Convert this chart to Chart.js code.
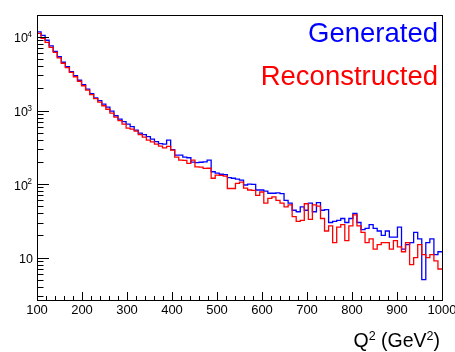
<!DOCTYPE html>
<html>
<head>
<meta charset="utf-8">
<script src="https://cdn.jsdelivr.net/npm/chart.js@4.4.1/dist/chart.umd.min.js"></script>
<style>
  html,body{margin:0;padding:0;background:#fff;}
  #wrap{width:455px;height:352px;}
</style>
</head>
<body>
<div id="wrap"><canvas id="c" width="455" height="352"></canvas></div>
<script>
// Q^2 spectrum, 100 bins of 9 GeV^2 from 100 to 1000
const X_MIN = 100, X_MAX = 1000, BIN_W = 9;
const Y_MIN = 2.65, Y_MAX = 19900;

const generated = [
  11700, 10540, 9020, 7590, 6390, 5380, 4530, 3940, 3370, 2970,
  2580, 2240, 1950, 1690, 1490, 1360, 1220, 1110, 978, 849,
  762, 705, 652, 603, 540, 492, 469, 441, 408, 377,
  354, 348, 395, 293, 247, 248, 232, 228, 199, 195,
  198, 200, 211, 147, 141, 136, 134, 122, 120, 117,
  113, 97, 100, 99, 83, 83, 80, 75, 75, 76,
  74, 60, 55, 44, 42, 49, 44, 55, 42, 56,
  44, 45, 30, 31, 32, 34, 30, 34, 40, 30,
  24, 25, 28, 25, 23, 20, 23, 19, 19, 26,
  13, 15, 16, 22, 18, 5, 16, 18, 11, 12
];
const reconstructed = [
  11220, 9600, 8470, 7240, 6190, 5210, 4390, 3820, 3310, 2880,
  2500, 2170, 1890, 1640, 1450, 1300, 1160, 1040, 919, 811,
  727, 652, 575, 557, 524, 469, 434, 395, 374, 348,
  327, 310, 325, 289, 232, 211, 210, 191, 211, 171,
  170, 163, 164, 120, 132, 131, 128, 87, 87, 102,
  106, 88, 83, 82, 70, 78, 55, 64, 67, 60,
  55, 49, 52, 36, 31, 32, 54, 33, 52, 50,
  34, 23, 27, 16, 26, 28, 17, 27, 38, 27,
  22, 16, 18, 13, 15, 16, 16, 13, 17, 14,
  12, 16, 8, 10, 15, 11, 10, 11, 9, 7
];
const xTicks = [100, 200, 300, 400, 500, 600, 700, 800, 900, 1000];
const yExponents = [1, 2, 3, 4];

const FONT = '"Liberation Sans", Arial, Helvetica, sans-serif';

// bin contents -> step points at the left edge of each bin, closed at X_MAX
function steps(vals){
  const pts = vals.map((v, i) => ({ x: X_MIN + i * BIN_W, y: v }));
  pts.push({ x: X_MAX, y: vals[vals.length - 1] });
  return pts;
}

const rootFrame = {
  id: 'rootFrame',
  afterDraw(chart){
    const { ctx, chartArea: a, scales: { x, y } } = chart;
    ctx.save();
    ctx.strokeStyle = '#000';
    ctx.lineWidth = 1;
    ctx.strokeRect(a.left + 0.5, a.top + 0.5, a.right - a.left, a.bottom - a.top);

    ctx.beginPath();
    // x: major every 100, minor every 20
    for (let v = X_MIN; v <= X_MAX; v += 20){
      const px = Math.round(x.getPixelForValue(v)) + 0.5;
      const len = (v % 100 === 0) ? 8 : 4;
      ctx.moveTo(px, a.bottom);
      ctx.lineTo(px, a.bottom - len);
    }
    // y: decades + 2..9 minors
    for (let e = 0; e <= 4; e++){
      for (let m = 1; m <= 9; m++){
        const v = m * Math.pow(10, e);
        if (v < Y_MIN || v > Y_MAX) continue;
        const py = Math.round(y.getPixelForValue(v)) + 0.5;
        const len = m === 1 ? 12 : 6.5;
        ctx.moveTo(a.left, py);
        ctx.lineTo(a.left + len, py);
      }
    }
    ctx.stroke();

    ctx.fillStyle = '#000';
    // x tick labels
    ctx.font = '13px ' + FONT;
    ctx.textAlign = 'center';
    ctx.textBaseline = 'alphabetic';
    xTicks.forEach(v => ctx.fillText(String(v), x.getPixelForValue(v), 314));

    // y tick labels 10^n
    ctx.textAlign = 'right';
    yExponents.forEach(e => {
      const py = y.getPixelForValue(Math.pow(10, e));
      if (e === 1){
        ctx.font = '12.5px ' + FONT;
        ctx.fillText('10', 33, py + 5);
      } else {
        ctx.font = '8.5px ' + FONT;
        ctx.fillText(String(e), 32, py);
        ctx.font = '12.5px ' + FONT;
        ctx.fillText('10', 28, py + 5.5);
      }
    });

    // axis title Q^2 (GeV^2)
    const parts = [
      ['Q', 19.5, 0], ['2', 12.5, -7.5], [' (GeV', 19.5, 0], ['2', 12.5, -7.5], [')', 19.5, 0]
    ];
    let w = 0;
    parts.forEach(p => { ctx.font = p[1] + 'px ' + FONT; w += ctx.measureText(p[0]).width; });
    let cx = 440 - w;
    ctx.textAlign = 'left';
    parts.forEach(p => {
      ctx.font = p[1] + 'px ' + FONT;
      ctx.fillText(p[0], cx, 347 + p[2]);
      cx += ctx.measureText(p[0]).width;
    });

    // legend text
    ctx.font = '27.5px ' + FONT;
    ctx.textAlign = 'right';
    ctx.fillStyle = '#0000ff';
    ctx.fillText('Generated', 438, 42);
    ctx.fillStyle = '#ff0000';
    ctx.fillText('Reconstructed', 438, 85);
    ctx.restore();
  }
};

new Chart(document.getElementById('c'), {
  type: 'line',
  data: {
    datasets: [
      { label: 'Generated', data: steps(generated), borderColor: '#0000ff', borderWidth: 1.3,
        pointRadius: 0, stepped: true, fill: false, order: 2 },
      { label: 'Reconstructed', data: steps(reconstructed), borderColor: '#ff0000', borderWidth: 1.3,
        pointRadius: 0, stepped: true, fill: false, order: 1 }
    ]
  },
  options: {
    responsive: false,
    animation: false,
    devicePixelRatio: 1,
    layout: { padding: { left: 37, top: 15, right: 13, bottom: 52 } },
    plugins: { legend: { display: false }, tooltip: { enabled: false } },
    scales: {
      x: { type: 'linear', min: X_MIN, max: X_MAX, display: false },
      y: { type: 'logarithmic', min: Y_MIN, max: Y_MAX, display: false }
    }
  },
  plugins: [rootFrame]
});
</script>
</body>
</html>
